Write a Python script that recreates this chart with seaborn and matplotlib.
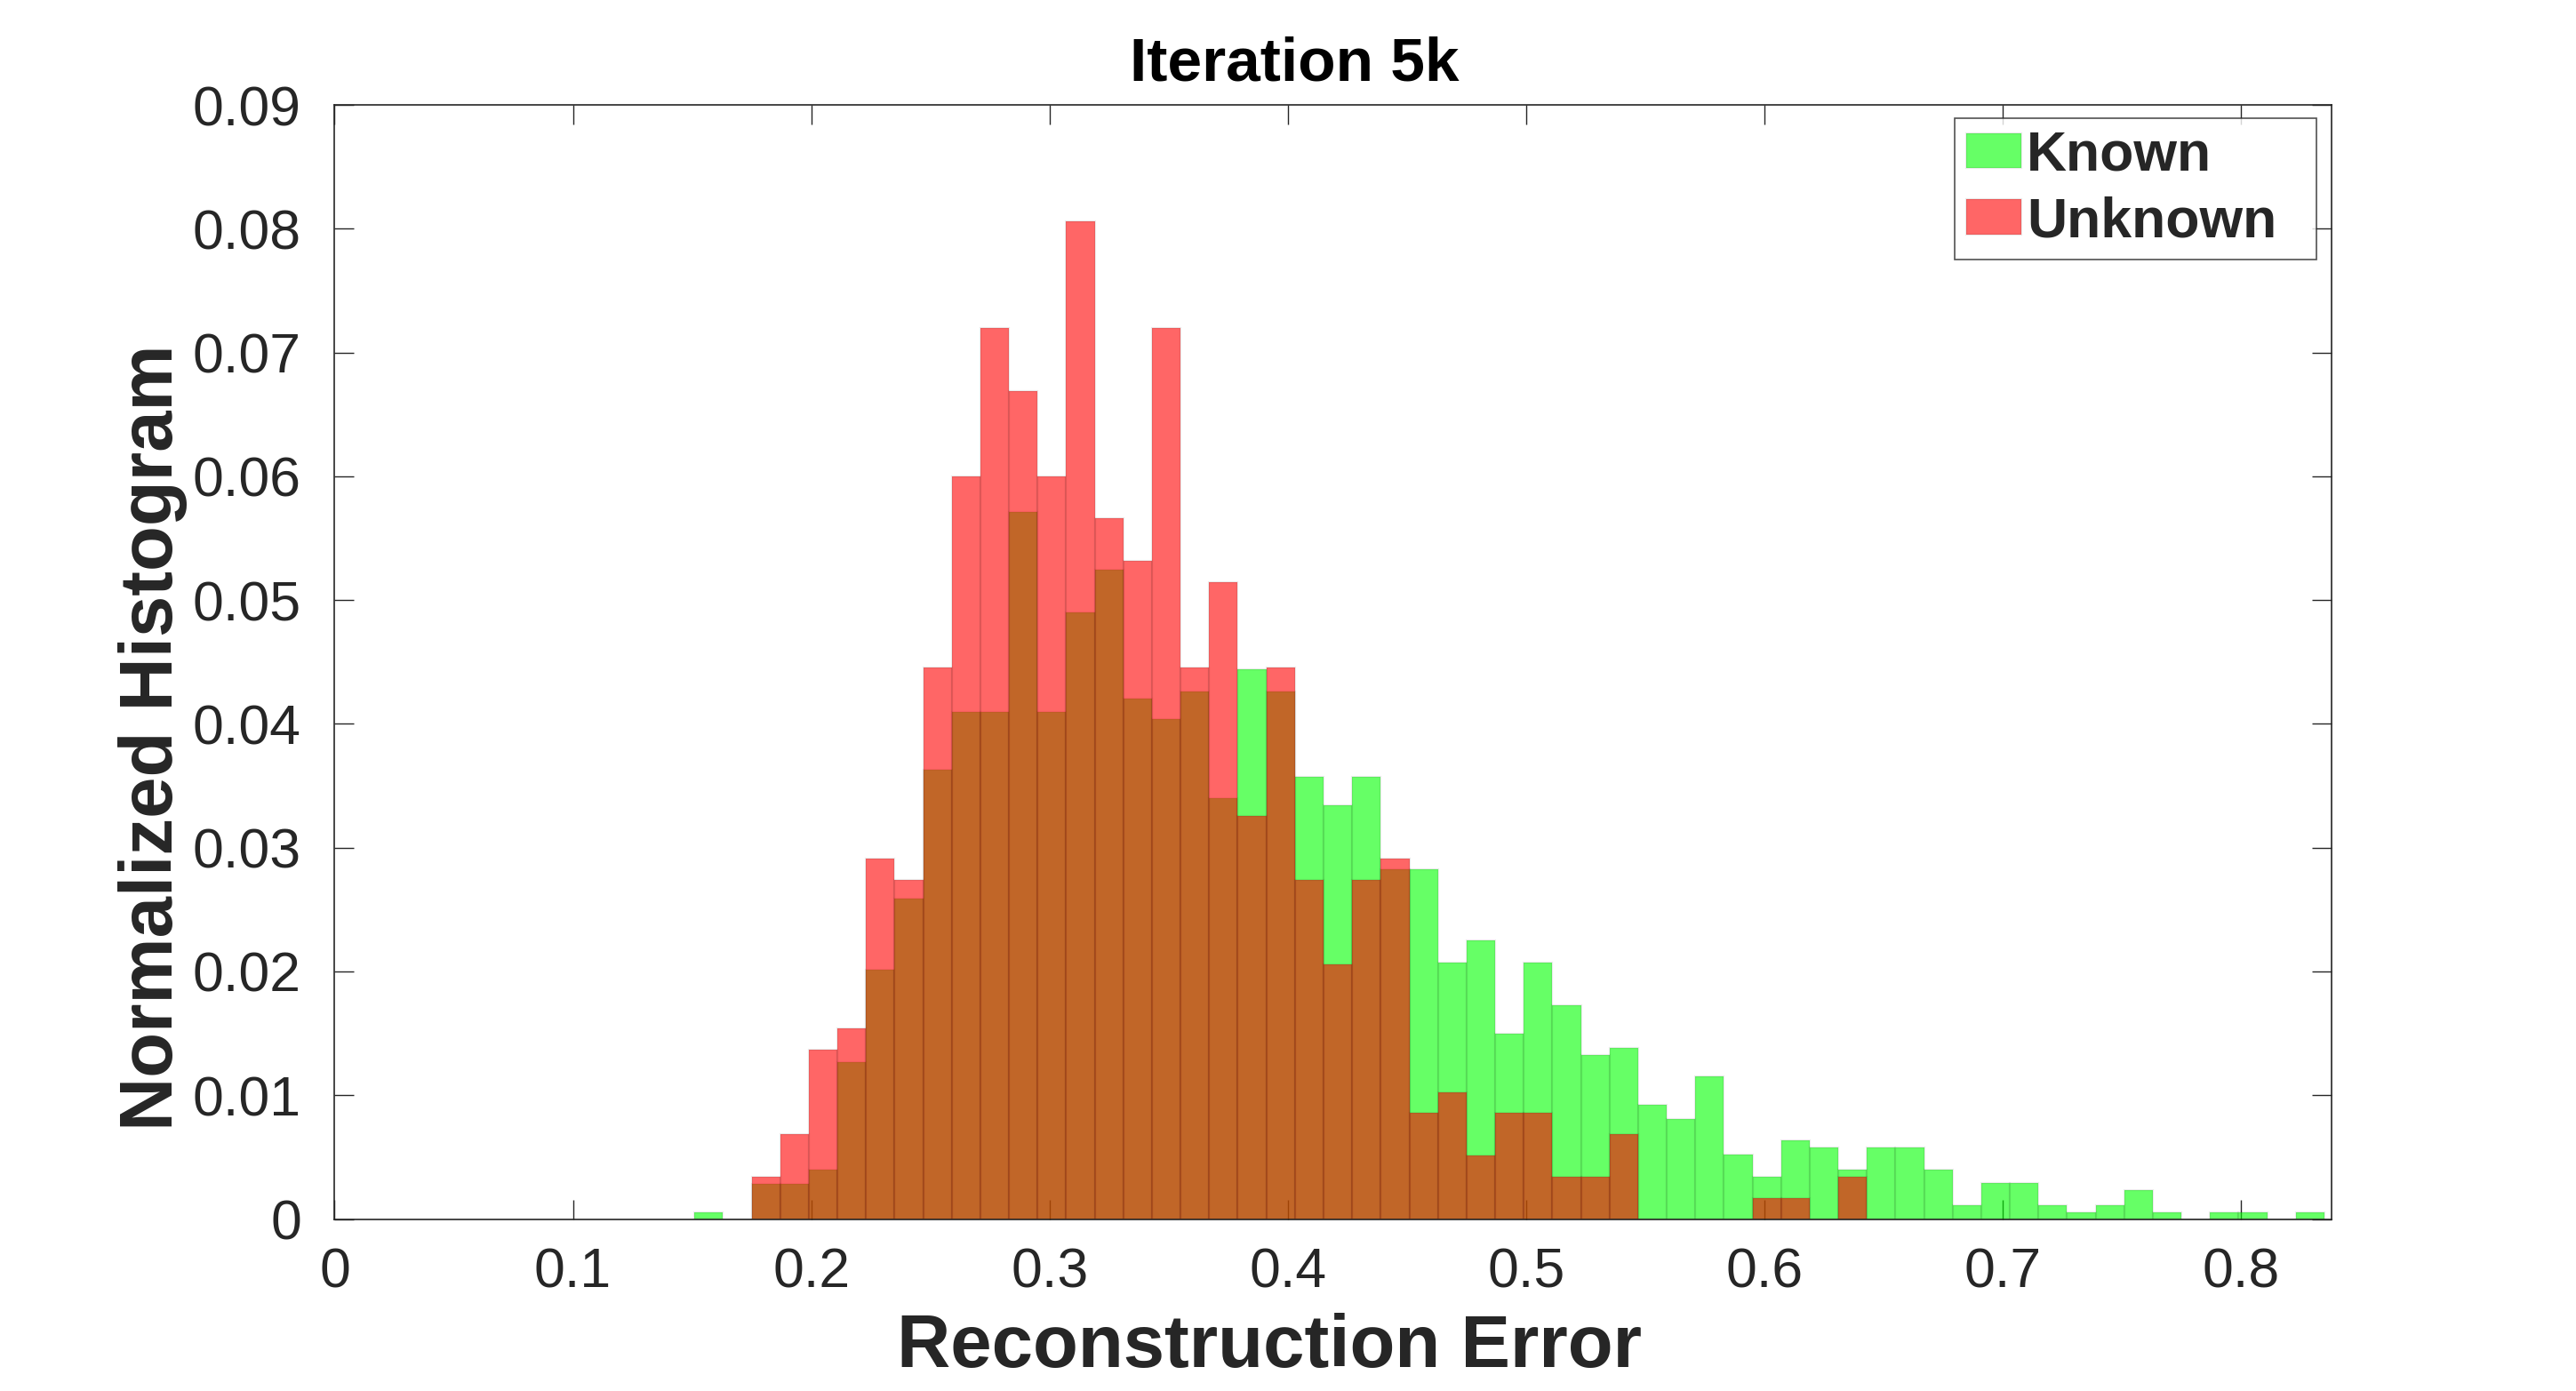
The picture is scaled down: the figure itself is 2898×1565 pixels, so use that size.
import numpy as np
import pandas as pd
import matplotlib
matplotlib.use("Agg")
import matplotlib.pyplot as plt
import seaborn as sns

# histogram layout (bin start, bin width, number of bins)
bin_start = 0.151
bin_width = 0.012
n_bins = 57

# normalized histogram heights per bin
known = [0.00057, 0.0, 0.00286, 0.00286, 0.00401, 0.01266, 0.02017, 0.02592,
         0.03631, 0.04093, 0.04093, 0.05709, 0.04093, 0.04901, 0.05247, 0.04205,
         0.04038, 0.04263, 0.03403, 0.04439, 0.04263, 0.03573, 0.03342, 0.03573,
         0.02823, 0.02826, 0.02072, 0.02249, 0.01495, 0.02072, 0.01729, 0.01325,
         0.01383, 0.00924, 0.00809, 0.01152, 0.00520, 0.00343, 0.00636, 0.00575,
         0.00401, 0.00576, 0.00576, 0.00401, 0.00114, 0.00291, 0.00291, 0.00114,
         0.00057, 0.00114, 0.00231, 0.00057, 0.0, 0.00057, 0.00057, 0.0, 0.00057]
unknown = [0.0, 0.0, 0.00341, 0.00686, 0.01371, 0.01541, 0.02913, 0.02741,
           0.04458, 0.06001, 0.07200, 0.06688, 0.06001, 0.08060, 0.05658, 0.05315,
           0.07200, 0.04458, 0.05144, 0.03259, 0.04458, 0.02743, 0.02060, 0.02743,
           0.02912, 0.00857, 0.01027, 0.00514, 0.00857, 0.00857, 0.00341, 0.00341,
           0.00687, 0.0, 0.0, 0.0, 0.0, 0.00170, 0.00170, 0.0,
           0.00341, 0.0, 0.0, 0.0, 0.0, 0.0, 0.0, 0.0,
           0.0, 0.0, 0.0, 0.0, 0.0, 0.0, 0.0, 0.0, 0.0]

x_ticks = [0, 0.1, 0.2, 0.3, 0.4, 0.5, 0.6, 0.7, 0.8]
y_ticks = [0, 0.01, 0.02, 0.03, 0.04, 0.05, 0.06, 0.07, 0.08, 0.09]

bin_end = bin_start + bin_width * n_bins
df = pd.DataFrame({
    "center": bin_start + bin_width * (np.arange(n_bins) + 0.5),
    "known": known,
    "unknown": unknown,
})

sns.set_style("white")
plt.rcParams['font.family'] = ['Liberation Sans', 'DejaVu Sans']

W, H = 2898, 1565
fig = plt.figure(figsize=(W / 200, H / 200), dpi=200)
ax = fig.add_axes([0.1299, 0.1236, 0.9051 - 0.1299, 0.9246 - 0.1236])

edge_kw = dict(edgecolor=(0, 0, 0, 0.08), linewidth=0.8)
sns.histplot(data=df, x="center", weights="known", binwidth=bin_width,
             binrange=(bin_start, bin_end), color="#00ff00", alpha=0.6,
             label="Known", ax=ax, **edge_kw)
sns.histplot(data=df, x="center", weights="unknown", binwidth=bin_width,
             binrange=(bin_start, bin_end), color="#ff0000", alpha=0.6,
             label="Unknown", ax=ax, **edge_kw)

ax.set_xlim(0, 0.838)
ax.set_ylim(0, 0.09)
ax.set_xticks(x_ticks)
ax.set_yticks(y_ticks)
ax.set_xticklabels([f"{v:g}" for v in x_ticks])
ax.set_yticklabels([f"{v:g}" for v in y_ticks])

dark = "#262626"
for s in ax.spines.values():
    s.set_visible(True)
    s.set_color(dark)
    s.set_linewidth(0.6)
ax.tick_params(axis="both", which="major", direction="in", length=8, width=0.5,
               color=dark, labelcolor=dark, labelsize=22.5,
               top=True, right=True, bottom=True, left=True)
ax.tick_params(axis="x", pad=11)
ax.tick_params(axis="y", pad=13.5)

ax.set_xlabel("Reconstruction Error", fontsize=30, fontweight="bold", color=dark)
ax.set_ylabel("Normalized Histogram", fontsize=30, fontweight="bold", color=dark)
ax.xaxis.set_label_coords(0.468, -0.084)
ax.yaxis.set_label_coords(-0.0736, 0.432)

ax.set_title("Iteration 5k", fontsize=25, fontweight="bold", color="black", pad=10)
ax.title.set_x(0.4806)

# legend box spans 2199..2606 px horizontally, top at 133 px
leg = ax.legend(loc="upper left", mode="expand",
                bbox_to_anchor=(2199 / W, 1 - 133 / H, (2606 - 2199) / W, 0),
                bbox_transform=fig.transFigure, prop={"size": 22.5, "weight": "bold"},
                handlelength=1.0, handleheight=0.6, handletextpad=0.1,
                labelspacing=0.25, borderpad=0.2, borderaxespad=0,
                fancybox=False, frameon=True)
leg.get_frame().set_edgecolor(dark)
leg.get_frame().set_linewidth(0.6)

fig.savefig("out.png", dpi=200, facecolor="white")
